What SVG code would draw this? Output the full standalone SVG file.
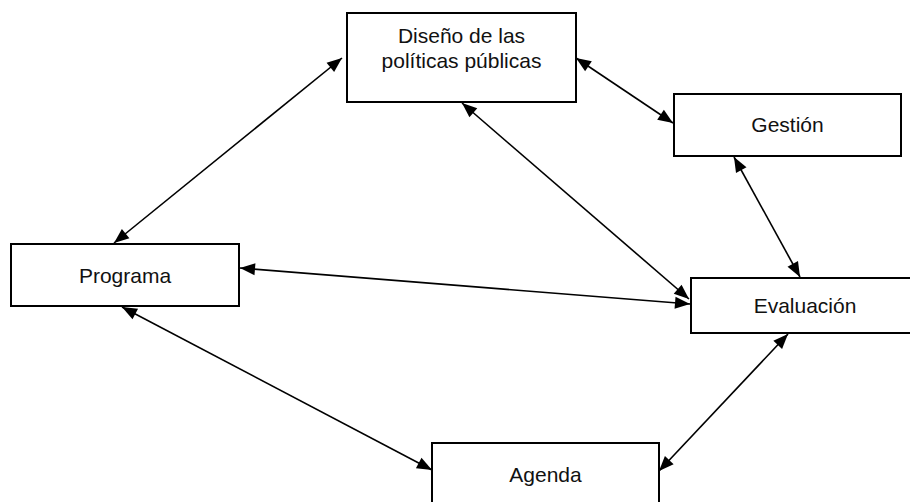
<svg xmlns="http://www.w3.org/2000/svg" width="910" height="502" viewBox="0 0 910 502">
<style>
.box{fill:#fff;stroke:#000;stroke-width:2}
.lbl{font-family:"Liberation Sans",Arial,sans-serif;font-size:21px;fill:#111;text-anchor:middle}
.con{stroke:#000;stroke-width:1.6;fill:none;marker-start:url(#ah);marker-end:url(#ah)}
</style>
<defs>
<marker id="ah" markerUnits="userSpaceOnUse" markerWidth="16" markerHeight="12" refX="15" refY="6" orient="auto-start-reverse" overflow="visible">
<path d="M0,0 L15,6 L0,12 z" fill="#000"/>
</marker>
</defs>
<rect width="910" height="502" fill="#fff"/>
<g id="n-diseno">
<rect class="box" x="347" y="13" width="229" height="89"/>
<text class="lbl" x="461.5" y="43">Diseño de las</text>
<text class="lbl" x="461.5" y="68">políticas públicas</text>
</g>
<g id="n-gestion">
<rect class="box" x="674" y="94" width="227" height="62"/>
<text class="lbl" x="787.5" y="132">Gestión</text>
</g>
<g id="n-programa">
<rect class="box" x="11" y="244" width="228" height="62"/>
<text class="lbl" x="125" y="283">Programa</text>
</g>
<g id="n-evaluacion">
<rect class="box" x="691" y="278" width="228" height="55"/>
<text class="lbl" x="805" y="313">Evaluación</text>
</g>
<g id="n-agenda">
<rect class="box" x="432" y="443" width="227" height="70"/>
<text class="lbl" x="545.5" y="482">Agenda</text>
</g>
<g id="connectors">
<line class="con" x1="342" y1="58" x2="114" y2="243"/>
<line class="con" x1="576" y1="58" x2="673" y2="123"/>
<line class="con" x1="462" y1="103" x2="689" y2="299"/>
<line class="con" x1="240" y1="268" x2="690" y2="304"/>
<line class="con" x1="734" y1="157" x2="800" y2="277"/>
<line class="con" x1="122" y1="307" x2="432" y2="470"/>
<line class="con" x1="788" y1="334" x2="659" y2="471"/>
</g>
</svg>
